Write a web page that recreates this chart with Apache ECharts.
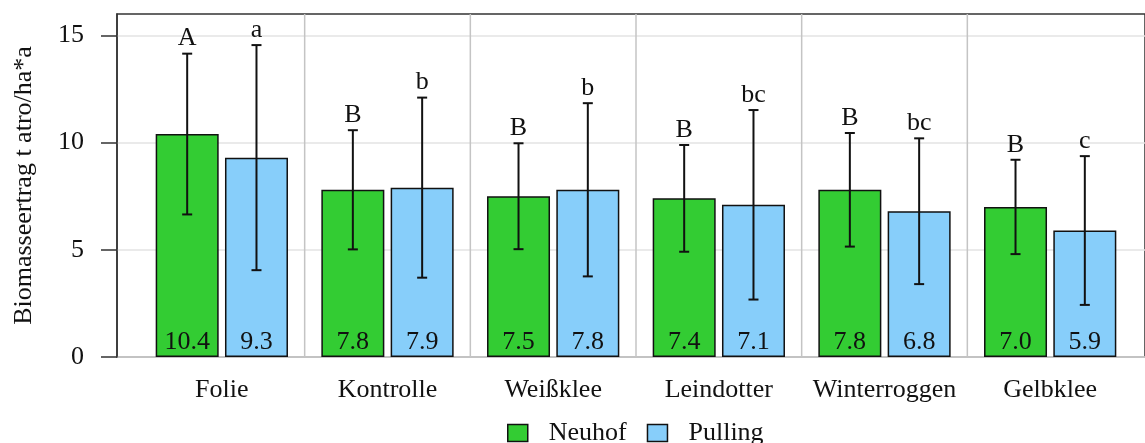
<!DOCTYPE html>
<html>
<head>
<meta charset="utf-8">
<script src="https://cdn.jsdelivr.net/npm/echarts@6/dist/echarts.min.js"></script>
<style>
html,body{margin:0;padding:0;background:#fff;}
#chart{width:1145px;height:443px;}
</style>
</head>
<body>
<div id="chart"></div>
<script>
// ---- data ----
var categories = ['Folie', 'Kontrolle', 'Weißklee', 'Leindotter', 'Winterroggen', 'Gelbklee'];
var seriesNames = ['Neuhof', 'Pulling'];
var neuhofMean = [10.4, 7.8, 7.5, 7.4, 7.8, 7.0];
var pullingMean = [9.3, 7.9, 7.8, 7.1, 6.8, 5.9];
var neuhofSd = [3.75, 2.78, 2.47, 2.49, 2.65, 2.2];
var pullingSd = [5.25, 4.2, 4.04, 4.42, 3.4, 3.47];
var neuhofLetters = ['A', 'B', 'B', 'B', 'B', 'B'];
var pullingLetters = ['a', 'b', 'b', 'bc', 'bc', 'c'];
var yTicks = [0, 5, 10, 15];
var separatorAfter = [1, 2, 3, 4, 5]; // boundary before category index

// ---- style ----
var FONT = '"Liberation Serif", "DejaVu Serif", serif';
var FS = 26;
var BAR_W = 63;
var BAR_GAP = 0.1;
var OFFSET = (BAR_W + BAR_W * BAR_GAP) / 2;
var Y_MAX = 16;

function errRows(mean, sd, letters) {
  return mean.map(function (m, i) { return [i, m, sd[i], letters[i]]; });
}

function errRender(sign) {
  return function (params, api) {
    var i = api.value(0), m = api.value(1), s = api.value(2);
    var letter = api.value(3);
    var top = api.coord([i, m + s]);
    var bot = api.coord([i, m - s]);
    var x = top[0] + sign * OFFSET;
    var cap = 5;
    var st = { stroke: '#111', lineWidth: 2 };
    return {
      type: 'group',
      children: [
        { type: 'line', shape: { x1: x, y1: top[1], x2: x, y2: bot[1] }, style: st },
        { type: 'line', shape: { x1: x - cap, y1: top[1], x2: x + cap, y2: top[1] }, style: st },
        { type: 'line', shape: { x1: x - cap, y1: bot[1], x2: x + cap, y2: bot[1] }, style: st },
        { type: 'text', style: { text: letter, x: x, y: top[1] - 2, align: 'center', verticalAlign: 'bottom',
          fontSize: FS, fontFamily: FONT, fill: '#111' } }
      ]
    };
  };
}

var chart = echarts.init(document.getElementById('chart'));
chart.setOption({
  backgroundColor: '#fff',
  animation: false,
  legend: {
    data: seriesNames,
    left: 507,
    top: 420,
    padding: 0,
    itemWidth: 20,
    itemHeight: 17,
    itemGap: 20,
    icon: 'rect',
    itemStyle: { borderColor: '#111', borderWidth: 1.5 },
    textStyle: { fontSize: FS, lineHeight: 17, fontFamily: FONT, color: '#111', padding: [0, 0, 0, 16] }
  },
  grid: [
    { left: 117, top: 14, width: 1040, bottom: 86, show: true, borderColor: '#333', borderWidth: 1.5, backgroundColor: 'transparent' },
    { left: 139, top: 14, right: 12, bottom: 86 }
  ],
  xAxis: [
    { type: 'value', gridIndex: 0, min: 0, max: 1, show: false },
    {
      type: 'category', gridIndex: 1, data: categories,
      axisLine: { show: false }, axisTick: { show: false }, splitLine: { show: false },
      axisLabel: { interval: 0, fontSize: FS, fontFamily: FONT, color: '#111', margin: 20 }
    }
  ],
  yAxis: [
    {
      type: 'value', gridIndex: 0, min: 0, max: Y_MAX, interval: 5,
      name: 'Biomasseertrag t atro/ha*a', nameLocation: 'middle', nameGap: 80,
      nameTextStyle: { fontSize: FS, fontFamily: FONT, color: '#111' },
      axisLine: { show: true, lineStyle: { color: '#333', width: 1.5 } },
      axisTick: { show: true, length: 16, customValues: yTicks, lineStyle: { color: '#333', width: 1.5 } },
      axisLabel: { customValues: yTicks, fontSize: FS, fontFamily: FONT, color: '#111', margin: 33 },
      splitLine: { show: true, lineStyle: { color: '#e3e3e3', width: 1.5 } }
    },
    { type: 'value', gridIndex: 1, min: 0, max: Y_MAX, show: false }
  ],
  series: [
    {
      type: 'custom', xAxisIndex: 1, yAxisIndex: 1, z: 1, silent: true,
      data: separatorAfter.map(function (k) { return [k, 0]; }),
      renderItem: function (params, api) {
        var k = api.value(0);
        var band = api.size([1, 0])[0];
        var a = api.coord([k, 0]), b = api.coord([k, Y_MAX]);
        var x = a[0] - band / 2;
        return { type: 'line', shape: { x1: x, y1: a[1], x2: x, y2: b[1] }, style: { stroke: '#c4c4c4', lineWidth: 1.5 } };
      }
    },
    {
      name: 'Neuhof', type: 'bar', xAxisIndex: 1, yAxisIndex: 1, data: neuhofMean,
      barWidth: BAR_W, barGap: (BAR_GAP * 100) + '%', z: 3,
      itemStyle: { color: '#33cc33', borderColor: '#111', borderWidth: 1.5 },
      label: { show: true, position: 'insideBottom', distance: 2, fontSize: FS, fontFamily: FONT, color: '#111',
        formatter: function (p) { return p.value.toFixed(1); } }
    },
    {
      name: 'Pulling', type: 'bar', xAxisIndex: 1, yAxisIndex: 1, data: pullingMean,
      barWidth: BAR_W, z: 3,
      itemStyle: { color: '#87cefa', borderColor: '#111', borderWidth: 1.5 },
      label: { show: true, position: 'insideBottom', distance: 2, fontSize: FS, fontFamily: FONT, color: '#111',
        formatter: function (p) { return p.value.toFixed(1); } }
    },
    {
      type: 'custom', xAxisIndex: 1, yAxisIndex: 1, z: 5, silent: true,
      data: errRows(neuhofMean, neuhofSd, neuhofLetters),
      renderItem: errRender(-1)
    },
    {
      type: 'custom', xAxisIndex: 1, yAxisIndex: 1, z: 5, silent: true,
      data: errRows(pullingMean, pullingSd, pullingLetters),
      renderItem: errRender(1)
    }
  ]
});
</script>
</body>
</html>
